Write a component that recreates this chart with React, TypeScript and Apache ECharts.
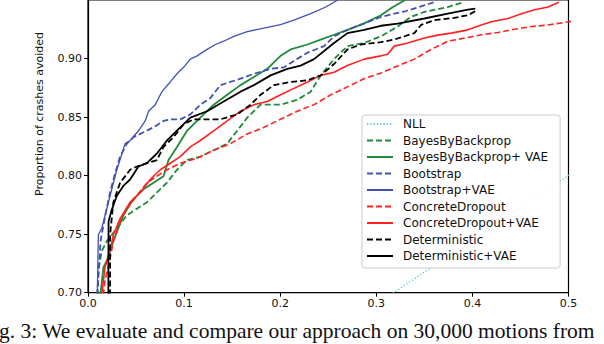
import React, { useEffect, useRef } from "react";
import * as echarts from "echarts";

const xTicks = [0, 0.1, 0.2, 0.3, 0.4, 0.5];
const yTicks = [0.7, 0.75, 0.8, 0.85, 0.9];

const seriesNames = [
  "NLL",
  "BayesByBackprop",
  "BayesByBackprop+ VAE",
  "Bootstrap",
  "Bootstrap+VAE",
  "ConcreteDropout",
  "ConcreteDropout+VAE",
  "Deterministic",
  "Deterministic+VAE",
];

const nll = [
  [0.3, 0.69], [0.35, 0.7176], [0.4, 0.745], [0.45, 0.7725], [0.5, 0.8], [0.52, 0.811],
];

const bayesByBackprop = [
  [0.0099, 0.69], [0.0099, 0.7], [0.0108, 0.719], [0.0143, 0.7356], [0.0195, 0.744],
  [0.03, 0.755], [0.0404, 0.7662], [0.0508, 0.7717], [0.0613, 0.7773], [0.0717, 0.7856],
  [0.0822, 0.794], [0.0926, 0.805], [0.103, 0.8133], [0.1169, 0.8162], [0.1308, 0.8217],
  [0.1448, 0.8273], [0.1552, 0.8383], [0.1657, 0.8495], [0.1795, 0.8606], [0.2004, 0.8606],
  [0.2179, 0.8648], [0.2317, 0.8717], [0.2422, 0.8856], [0.256, 0.8995], [0.27, 0.9106],
  [0.2874, 0.9133], [0.3048, 0.919], [0.3222, 0.9273], [0.3361, 0.9356], [0.35, 0.9398],
  [0.3744, 0.944], [0.39, 0.948],
];

const bayesByBackpropVae = [
  [0.012, 0.69], [0.0133, 0.7008], [0.016, 0.7217], [0.0195, 0.7273], [0.0264, 0.744],
  [0.0368, 0.7662], [0.0473, 0.78], [0.0577, 0.7883], [0.0682, 0.794], [0.0786, 0.7995],
  [0.0838, 0.8133], [0.0926, 0.8245], [0.103, 0.8383], [0.1169, 0.8495], [0.1308, 0.8606],
  [0.1448, 0.869], [0.1587, 0.8773], [0.1726, 0.8842], [0.1865, 0.8912], [0.2004, 0.9023],
  [0.2109, 0.9078], [0.2283, 0.912], [0.2422, 0.9162], [0.256, 0.9203], [0.27, 0.9245],
  [0.2874, 0.93], [0.3048, 0.937], [0.3173, 0.944], [0.33, 0.95],
];

const bootstrap = [
  [0.0099, 0.69], [0.0099, 0.7], [0.013, 0.744], [0.0177, 0.765], [0.023, 0.7856],
  [0.0282, 0.802], [0.0334, 0.8162], [0.0404, 0.8273], [0.0473, 0.8328], [0.0577, 0.837],
  [0.068, 0.8412], [0.0786, 0.8467], [0.0856, 0.848], [0.096, 0.848], [0.1065, 0.8523],
  [0.117, 0.8606], [0.1273, 0.8662], [0.1378, 0.8773], [0.1482, 0.88], [0.1587, 0.8828],
  [0.1726, 0.887], [0.19, 0.8912], [0.2039, 0.8925], [0.2143, 0.898], [0.2283, 0.905],
  [0.2456, 0.9106], [0.256, 0.919], [0.27, 0.9245], [0.2874, 0.93], [0.3048, 0.9356],
  [0.3309, 0.9406], [0.3445, 0.944], [0.36, 0.948],
];

const bootstrapVae = [
  [0.0095, 0.69], [0.0097, 0.7008], [0.0108, 0.7495], [0.0143, 0.755], [0.0195, 0.7717],
  [0.0247, 0.7883], [0.03, 0.805], [0.0386, 0.8273], [0.0438, 0.83], [0.0525, 0.8383],
  [0.0595, 0.8467], [0.063, 0.855], [0.07, 0.8606], [0.0769, 0.8717], [0.0856, 0.88],
  [0.0926, 0.887], [0.0995, 0.8925], [0.1065, 0.8995], [0.1135, 0.9023], [0.1239, 0.9078],
  [0.1326, 0.912], [0.1412, 0.9148], [0.1517, 0.919], [0.1657, 0.923], [0.183, 0.926],
  [0.2004, 0.929], [0.2143, 0.9328], [0.2317, 0.9383], [0.2474, 0.944], [0.26, 0.95],
];

const concreteDropout = [
  [0.016, 0.69], [0.016, 0.698], [0.0177, 0.7106], [0.0212, 0.7217], [0.0264, 0.744],
  [0.0334, 0.7606], [0.0404, 0.7717], [0.0508, 0.7828], [0.0613, 0.7939], [0.0717, 0.7995],
  [0.0822, 0.805], [0.096, 0.8106], [0.1135, 0.8148], [0.1308, 0.8217], [0.1482, 0.8273],
  [0.1657, 0.8356], [0.183, 0.8412], [0.2004, 0.8481], [0.2179, 0.855], [0.2352, 0.8606],
  [0.2526, 0.869], [0.27, 0.8758], [0.2874, 0.8828], [0.3048, 0.8877], [0.3187, 0.8925],
  [0.3396, 0.8995], [0.357, 0.9078], [0.3744, 0.9148], [0.3918, 0.9175], [0.4092, 0.9203],
  [0.4266, 0.9223], [0.4439, 0.925], [0.4614, 0.9273], [0.4788, 0.9287], [0.5, 0.9314],
  [0.52, 0.934],
];

const concreteDropoutVae = [
  [0.0143, 0.69], [0.0143, 0.698], [0.0177, 0.7217], [0.023, 0.7356], [0.0264, 0.7495],
  [0.0334, 0.7633], [0.0438, 0.7773], [0.0543, 0.7856], [0.0647, 0.7967], [0.0752, 0.805],
  [0.0856, 0.8106], [0.096, 0.8162], [0.1065, 0.8245], [0.1169, 0.83], [0.1308, 0.8383],
  [0.1448, 0.8467], [0.1587, 0.855], [0.1726, 0.8606], [0.1865, 0.8633], [0.2004, 0.869],
  [0.2143, 0.8745], [0.2283, 0.88], [0.2422, 0.8856], [0.256, 0.8883], [0.27, 0.894],
  [0.2874, 0.8995], [0.3048, 0.9023], [0.3118, 0.9037], [0.3187, 0.9106], [0.3327, 0.9133],
  [0.35, 0.9175], [0.364, 0.92], [0.3779, 0.9217], [0.3953, 0.9245], [0.4092, 0.9287],
  [0.4196, 0.9314], [0.437, 0.9342], [0.4509, 0.9383], [0.4648, 0.9417], [0.4788, 0.944],
  [0.49, 0.948],
];

const deterministic = [
  [0.023, 0.69], [0.023, 0.698], [0.023, 0.7497], [0.0264, 0.7773], [0.0334, 0.7939],
  [0.0438, 0.805], [0.0508, 0.8078], [0.0613, 0.8106], [0.0717, 0.8133], [0.0786, 0.8245],
  [0.089, 0.8328], [0.0995, 0.8439], [0.1099, 0.8481], [0.1204, 0.8481], [0.1378, 0.8481],
  [0.1552, 0.8523], [0.1691, 0.8606], [0.1795, 0.869], [0.1934, 0.8773], [0.2109, 0.88],
  [0.2283, 0.8814], [0.2422, 0.8856], [0.256, 0.8953], [0.27, 0.9078], [0.2839, 0.912],
  [0.3048, 0.914], [0.3187, 0.9162], [0.3396, 0.9217], [0.3466, 0.9287], [0.3605, 0.9328],
  [0.3813, 0.9348], [0.3953, 0.937], [0.4057, 0.9417],
];

const deterministicVae = [
  [0.0212, 0.69], [0.0212, 0.698], [0.0212, 0.727], [0.0214, 0.7606], [0.024, 0.769],
  [0.03, 0.7828], [0.0368, 0.7912], [0.0438, 0.7967], [0.0525, 0.8078], [0.0613, 0.8106],
  [0.0717, 0.8189], [0.0822, 0.83], [0.096, 0.8412], [0.1065, 0.8495], [0.1239, 0.855],
  [0.1412, 0.8633], [0.1587, 0.8717], [0.1726, 0.8773], [0.19, 0.8856], [0.2074, 0.8912],
  [0.2213, 0.894], [0.2352, 0.8995], [0.256, 0.9133], [0.27, 0.9217], [0.2874, 0.9245],
  [0.3048, 0.928], [0.3222, 0.9298], [0.35, 0.9342], [0.3744, 0.9383], [0.3953, 0.9417],
  [0.403, 0.9427],
];

const seriesData = [
  nll, bayesByBackprop, bayesByBackpropVae, bootstrap, bootstrapVae,
  concreteDropout, concreteDropoutVae, deterministic, deterministicVae,
];

const GREEN = "#1f8a38";
const BLUE = "#4152b3";
const RED = "#ff2020";
const BLACK = "#000000";
const CYAN = "#5cc8d2";

const styles = [
  { color: CYAN, width: 1.3, type: [1.3, 2] },
  { color: GREEN, width: 1.8, type: [6, 3] },
  { color: GREEN, width: 1.8, type: "solid" },
  { color: BLUE, width: 1.8, type: [6, 3] },
  { color: BLUE, width: 1.3, type: "solid" },
  { color: RED, width: 1.6, type: [6, 3] },
  { color: RED, width: 1.6, type: "solid" },
  { color: BLACK, width: 1.8, type: [6, 3] },
  { color: BLACK, width: 1.8, type: "solid" },
];

const caption = "g. 3: We evaluate and compare our approach on 30,000 motions from";
const yLabel = "Proportion of crashes avoided";

export default function App() {
  const ref = useRef<HTMLDivElement>(null);
  useEffect(() => {
    if (!ref.current) return;
    const chart = echarts.init(ref.current, undefined, { renderer: "svg" });
    const font = "DejaVu Sans";
    chart.setOption({
      animation: false,
      backgroundColor: "#ffffff",
      grid: {
        left: 88,
        right: 35.5,
        top: -7.3,
        bottom: 51.3,
        show: true,
        borderColor: "#000",
        borderWidth: 1.2,
        backgroundColor: "transparent",
      },
      xAxis: {
        type: "value",
        min: xTicks[0],
        max: xTicks[xTicks.length - 1],
        interval: 0.1,
        axisLine: { show: true, onZero: false, lineStyle: { color: "#000", width: 1.2 } },
        axisTick: { show: true, length: 4, lineStyle: { color: "#000", width: 1 } },
        axisLabel: {
          color: "#111",
          fontFamily: font,
          fontSize: 11,
          margin: 5,
          formatter: (v: number) => v.toFixed(1),
        },
        splitLine: { show: false },
      },
      yAxis: {
        type: "value",
        min: yTicks[0],
        max: 0.95,
        interval: 0.05,
        axisLine: { show: true, onZero: false, lineStyle: { color: "#000", width: 1.2 } },
        axisTick: { show: true, length: 4, lineStyle: { color: "#000", width: 1 } },
        axisLabel: {
          color: "#111",
          fontFamily: font,
          fontSize: 11,
          margin: 6,
          showMaxLabel: false,
          formatter: (v: number) => v.toFixed(2),
        },
        splitLine: { show: false },
      },
      legend: {
        orient: "vertical",
        left: 362,
        top: 115,
        data: seriesNames,
        itemWidth: 26,
        itemHeight: 14,
        itemGap: 4.5,
        padding: [3, 12, 6, 4],
        backgroundColor: "rgba(255,255,255,0.85)",
        borderColor: "#cccccc",
        borderWidth: 1,
        borderRadius: 3,
        itemStyle: { opacity: 0, borderWidth: 0 },
        textStyle: {
          fontFamily: font,
          fontSize: 12,
          color: "#111",
          padding: [0, 0, 0, 5],
        },
        z: 10,
      },
      graphic: [
        {
          type: "text",
          x: 39.5,
          y: 114,
          rotation: Math.PI / 2,
          style: {
            text: yLabel,
            fontFamily: font,
            fontSize: 11,
            fill: "#111",
            textAlign: "center",
            textVerticalAlign: "middle",
          },
        },
        {
          type: "text",
          x: -1,
          y: 342,
          style: {
            text: caption,
            fontFamily: "Liberation Serif",
            fontSize: 21.5,
            fill: "#111",
            textAlign: "left",
            textVerticalAlign: "bottom",
          },
        },
      ],
      series: seriesNames.map((name, i) => ({
        name,
        type: "line",
        data: seriesData[i],
        showSymbol: false,
        symbol: "none",
        clip: true,
        z: 2 + i,
        lineStyle: { color: styles[i].color, width: styles[i].width, type: styles[i].type },
        itemStyle: { color: styles[i].color },
      })),
    });
    return () => chart.dispose();
  }, []);
  return (
    <div
      ref={ref}
      style={{ position: "fixed", left: 0, top: 0, width: 604, height: 344, background: "#fff" }}
    />
  );
}
